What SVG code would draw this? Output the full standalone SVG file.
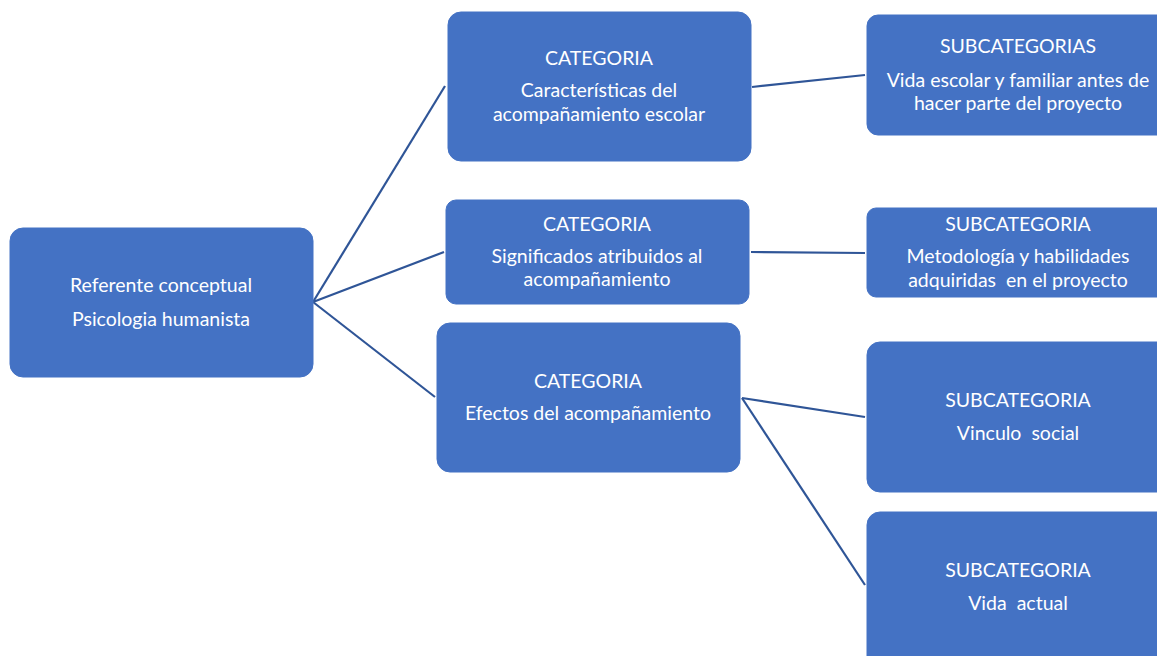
<svg xmlns="http://www.w3.org/2000/svg" width="1157" height="656" viewBox="0 0 1157 656">
<style>
.box{fill:#4472C4;stroke:#4472C4;stroke-width:1}
.t{font-family:Lato,"Noto Sans",sans-serif;font-size:19.5px;fill:#ffffff;text-anchor:middle;white-space:pre}
.c{stroke:#2F5597;stroke-width:2.2;fill:none}
</style>
<rect width="1157" height="656" fill="#ffffff"/>
<g id="connectors">
<line class="c" x1="313" y1="302" x2="445" y2="86"/>
<line class="c" x1="313" y1="302" x2="444" y2="252"/>
<line class="c" x1="313" y1="302" x2="435" y2="397"/>
<line class="c" x1="752" y1="87" x2="865" y2="75"/>
<line class="c" x1="751" y1="252" x2="865" y2="253"/>
<line class="c" x1="742" y1="398" x2="865" y2="417"/>
<line class="c" x1="742" y1="398" x2="865" y2="585"/>
</g>
<g id="root">
<rect class="box" x="10" y="228" width="303" height="149" rx="13"/>
<text class="t" x="161" y="292">Referente conceptual</text>
<text class="t" x="161" y="326">Psicologia humanista</text>
</g>
<g id="cat1">
<rect class="box" x="448" y="12" width="303" height="149" rx="13"/>
<text class="t" x="599" y="65">CATEGORIA</text>
<text class="t" x="599" y="97">Características del</text>
<text class="t" x="599" y="121">acompañamiento escolar</text>
</g>
<g id="cat2">
<rect class="box" x="446" y="200" width="303" height="104" rx="10"/>
<text class="t" x="597" y="231">CATEGORIA</text>
<text class="t" x="597" y="263">Significados atribuidos al</text>
<text class="t" x="597" y="286">acompañamiento</text>
</g>
<g id="cat3">
<rect class="box" x="437" y="323" width="303" height="149" rx="13"/>
<text class="t" x="588" y="388">CATEGORIA</text>
<text class="t" x="588" y="420">Efectos del acompañamiento</text>
</g>
<g id="sub1">
<rect class="box" x="867" y="15" width="310" height="120" rx="11"/>
<text class="t" x="1018" y="53">SUBCATEGORIAS</text>
<text class="t" x="1018" y="87">Vida escolar y familiar antes de</text>
<text class="t" x="1018" y="110">hacer parte del proyecto</text>
</g>
<g id="sub2">
<rect class="box" x="867" y="208" width="310" height="89" rx="9"/>
<text class="t" x="1018" y="231">SUBCATEGORIA</text>
<text class="t" x="1018" y="263">Metodología y habilidades</text>
<text class="t" x="1018" y="287">adquiridas  en el proyecto</text>
</g>
<g id="sub3">
<rect class="box" x="867" y="342" width="310" height="150" rx="13"/>
<text class="t" x="1018" y="407">SUBCATEGORIA</text>
<text class="t" x="1018" y="440">Vinculo  social</text>
</g>
<g id="sub4">
<rect class="box" x="867" y="512" width="310" height="160" rx="13"/>
<text class="t" x="1018" y="577">SUBCATEGORIA</text>
<text class="t" x="1018" y="610">Vida  actual</text>
</g>
</svg>
